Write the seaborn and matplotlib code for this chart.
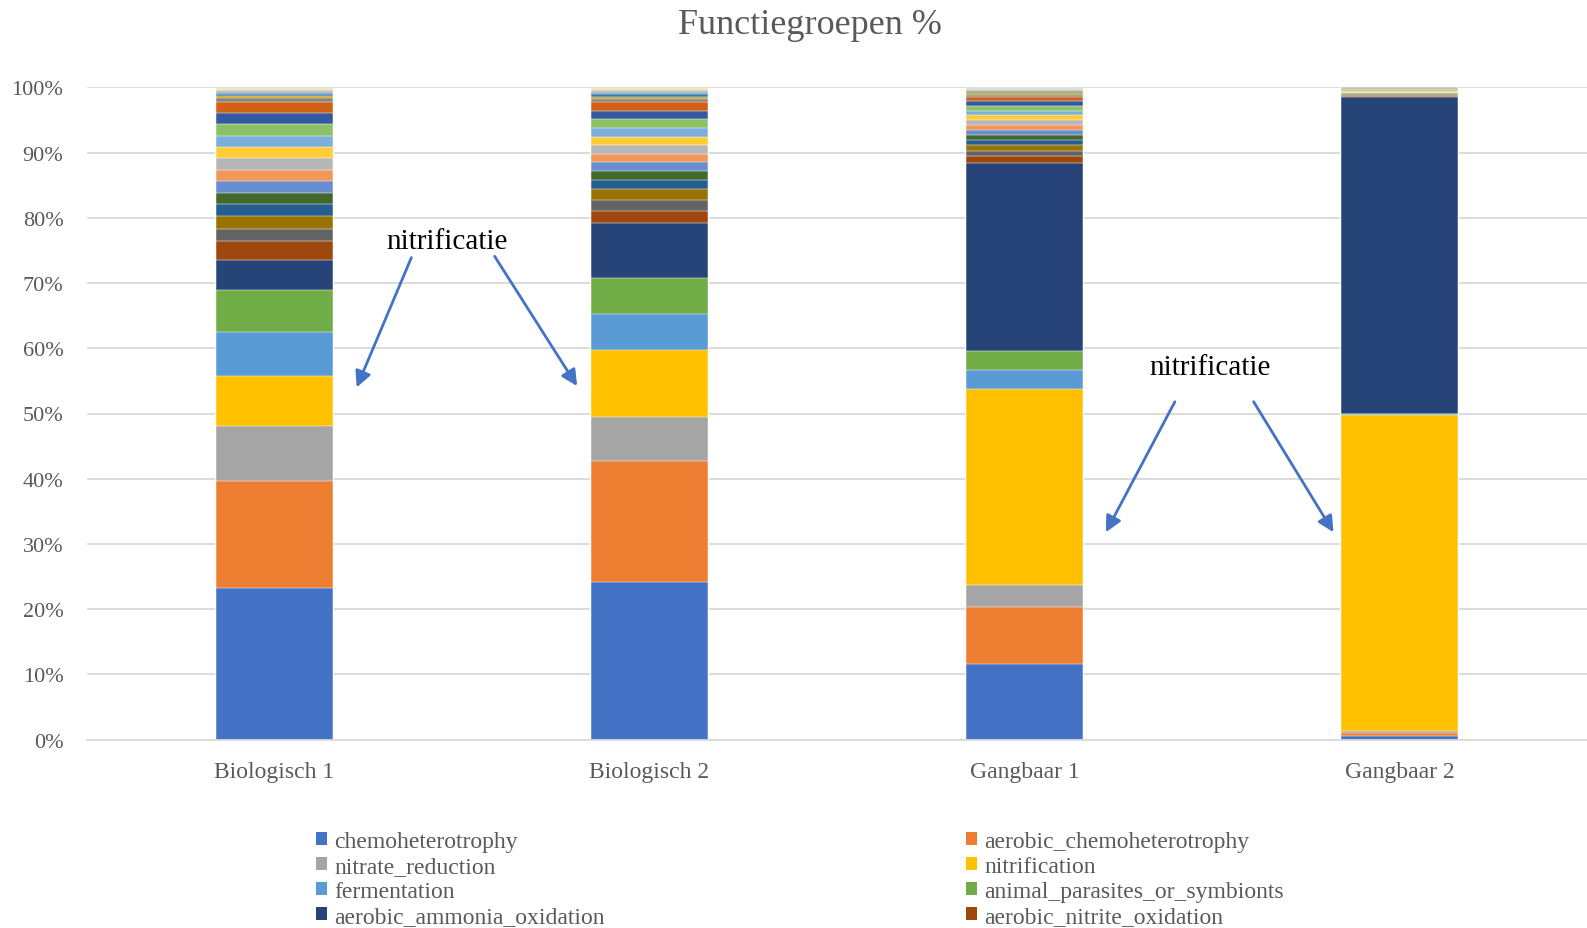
import matplotlib
matplotlib.use("Agg")
import matplotlib.pyplot as plt
import numpy as np
import pandas as pd
import seaborn as sns
from matplotlib.patches import Patch

# ---- data -----------------------------------------------------------------
samples = ["Biologisch 1", "Biologisch 2", "Gangbaar 1", "Gangbaar 2"]

groups = [
    "chemoheterotrophy", "aerobic_chemoheterotrophy", "nitrate_reduction",
    "nitrification", "fermentation", "animal_parasites_or_symbionts",
    "aerobic_ammonia_oxidation", "aerobic_nitrite_oxidation",
    "nitrogen_fixation", "cellulolysis", "ureolysis", "phototrophy",
    "photoautotrophy", "predatory_or_exoparasitic", "nitrate_respiration",
    "nitrogen_respiration", "human_pathogens_all",
    "aromatic_compound_degradation", "nitrite_respiration", "methylotrophy",
    "methanol_oxidation", "chitinolysis", "intracellular_parasites",
    "plant_pathogen", "xylanolysis", "hydrocarbon_degradation",
    "dark_hydrogen_oxidation", "sulfate_respiration", "manganese_oxidation",
    "nitrate_denitrification",
]

# percentage per functional group (same order as `groups`)
bio1 = [23.3, 16.3, 8.5, 7.6, 6.8, 6.5, 4.5, 2.95,
        1.9, 1.85, 1.85, 1.8, 1.8, 1.75, 1.75, 1.75, 1.7, 1.75, 1.75, 1.7,
        0.5, 0.35, 0.3, 0.25, 0.2, 0.2, 0.15, 0.1, 0.1, 0.05]
bio2 = [24.2, 18.5, 6.8, 10.2, 5.6, 5.4, 8.5, 1.8,
        1.7, 1.75, 1.3, 1.4, 1.35, 1.35, 1.3, 1.3, 1.3, 1.35, 1.3, 1.3,
        0.45, 0.4, 0.35, 0.3, 0.25, 0.2, 0.15, 0.1, 0.05, 0.05]
gang1 = [11.6, 8.7, 3.4, 30.1, 2.8, 2.95, 28.9, 0.95,
         0.9, 0.9, 0.78, 0.78, 0.67, 0.77, 0.72, 0.77, 0.67, 0.77, 0.72, 0.72,
         0.3, 0.25, 0.2, 0.18, 0.15, 0.12, 0.1, 0.06, 0.04, 0.03]
gang2 = [0.5, 0.6, 0.2, 48.5, 0.05, 0.05, 48.6, 0.1,
         0.2, 0.1, 0.05, 0.1, 0.05, 0.05, 0.05, 0.2, 0.15, 0.2, 0.05, 0.05,
         0.05, 0.05, 0.02, 0.02, 0.02, 0.02, 0.02, 0.02, 0.01, 0.01]

colors = [
    "#4472C4", "#ED7D31", "#A5A5A5", "#FFC000", "#5B9BD5", "#70AD47",
    "#264478", "#9E480E", "#636363", "#997300", "#255E91", "#43682B",
    "#698ED0", "#F1975A", "#B7B7B7", "#FFCD33", "#7CAFDD", "#8CC168",
    "#335AA1", "#D26012", "#848484", "#CC9A00", "#327DC2", "#5A8A39",
    "#8FAADC", "#F4B183", "#C9C9C9", "#FFD966", "#9DC3E6", "#A9D18E",
]

# long table with cumulative tops for stacking
values = {"Biologisch 1": bio1, "Biologisch 2": bio2,
          "Gangbaar 1": gang1, "Gangbaar 2": gang2}
rows = []
for s in samples:
    for g, v in zip(groups, values[s]):
        rows.append({"sample": s, "group": g, "value": v})
df = pd.DataFrame(rows)
df["top"] = df.groupby("sample")["value"].cumsum()

# ---- style ----------------------------------------------------------------
sns.set_theme(style="white")
plt.rcParams["font.family"] = ["Liberation Serif", "DejaVu Serif"]
GREY_TXT = "#595959"
GRID = "#D9D9D9"

W, H = 1587, 929
fig = plt.figure(figsize=(W / 100, H / 100), dpi=100)
ax = fig.add_axes([87 / W, 1 - 740.7 / H, 1 - 87 / W, (740.7 - 88.3) / H])

# draw from the top segment downwards so each lower segment covers the rest
for i in reversed(range(len(groups))):
    sub = df[df["group"] == groups[i]]
    sns.barplot(data=sub, x="sample", y="top", order=samples,
                color=colors[i], saturation=1, width=0.312,
                edgecolor="white", linewidth=0.35, errorbar=None, ax=ax)

ax.set_xlim(-0.5, 3.5)
ax.set_ylim(0, 100)
ax.set_xlabel("")
ax.set_ylabel("")
ax.set_yticks(np.arange(0, 101, 10))
ax.set_yticklabels([f"{v}%" for v in range(0, 101, 10)])
ax.yaxis.grid(True, color=GRID, linewidth=1.3)
ax.set_axisbelow(True)
for side in ["left", "right", "top"]:
    ax.spines[side].set_visible(False)
ax.spines["bottom"].set_color(GRID)
ax.spines["bottom"].set_linewidth(1.3)
ax.tick_params(axis="y", length=0, pad=17, labelsize=16, labelcolor=GREY_TXT)
ax.tick_params(axis="x", length=0, pad=15, labelsize=17, labelcolor=GREY_TXT)

# title
fig.text(810 / W, 1 - 34 / H, "Functiegroepen %", ha="center",
         va="baseline", fontsize=26, color=GREY_TXT)

# annotations
arrow = dict(arrowstyle="-|>", color="#4472C4", lw=2, mutation_scale=24,
             shrinkA=0, shrinkB=0)
ax.text(0.459, 76.4, "nitrificatie", ha="center", va="center",
        fontsize=21, color="black")
ax.annotate("", xy=(0.219, 54.0), xytext=(0.365, 73.9), arrowprops=arrow)
ax.annotate("", xy=(0.807, 54.2), xytext=(0.587, 74.1), arrowprops=arrow)
ax.text(2.495, 57.2, "nitrificatie", ha="center", va="center",
        fontsize=21, color="black")
ax.annotate("", xy=(2.217, 31.8), xytext=(2.401, 51.8), arrowprops=arrow)
ax.annotate("", xy=(2.824, 31.8), xytext=(2.611, 51.8), arrowprops=arrow)

# legend in two columns, filled row by row (first eight groups)
shown = 8
handles = [Patch(facecolor=c, edgecolor="none") for c in colors[:shown]]
labels = groups[:shown]
leg_kw = dict(loc="upper left", frameon=False, fontsize=17, borderpad=0,
              borderaxespad=0, handlelength=0.47, handleheight=0.47,
              handletextpad=0.3, labelspacing=0.165, labelcolor=GREY_TXT)
fig.legend(handles[0::2], labels[0::2],
           bbox_to_anchor=(316 / W, 1 - 832 / H), **leg_kw)
fig.legend(handles[1::2], labels[1::2],
           bbox_to_anchor=(966 / W, 1 - 832 / H), **leg_kw)

fig.savefig("out.png", dpi=100)
